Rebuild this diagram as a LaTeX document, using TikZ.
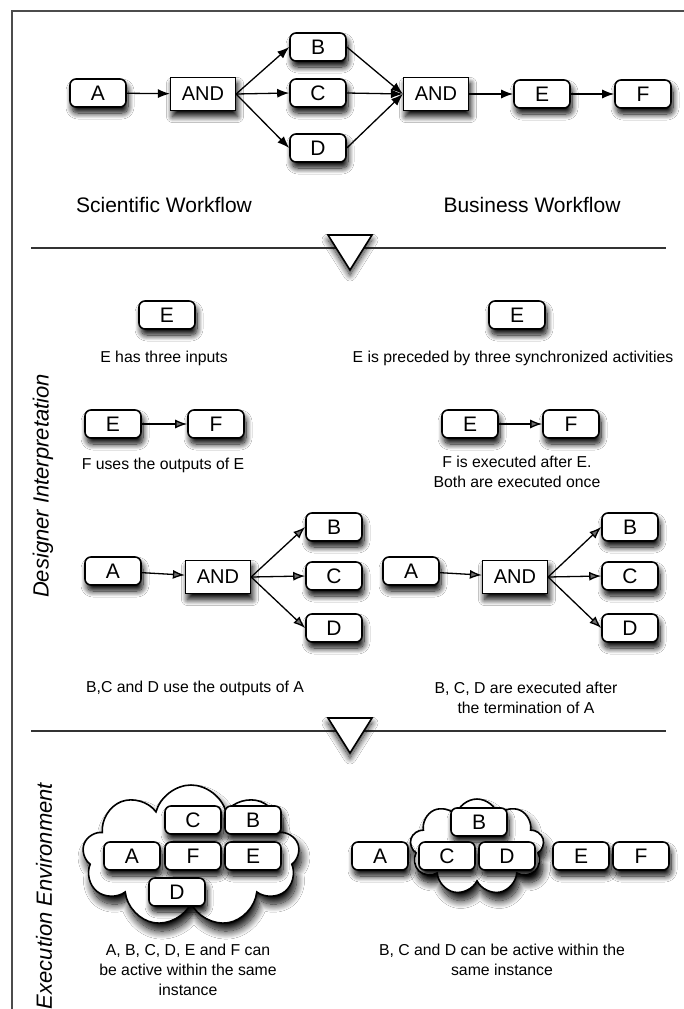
\documentclass[tikz,border=0pt]{standalone}
\usepackage{fontspec}
\setmainfont{Liberation Sans}
\usetikzlibrary{arrows.meta,shapes.symbols,shadows.blur,positioning}
\begin{document}
\begin{tikzpicture}[x=1pt,y=-1pt,
  shad/.style={blur shadow={shadow xshift=2pt, shadow yshift=-6pt, shadow blur radius=6pt, shadow blur steps=12, shadow opacity=100}},
  act/.style={draw, line width=1.6pt, rounded corners=6pt, fill=white, minimum width=56pt, minimum height=28pt, inner sep=0pt, font=\fontsize{21}{21}\selectfont, shad},
  andbox/.style={draw, line width=1.2pt, fill=white, minimum width=65pt, minimum height=33pt, inner sep=0pt, font=\fontsize{20}{20}\selectfont, shad},
  flow/.style={line width=1.3pt, -{Latex[length=12pt,width=9pt]}},
  title/.style={font=\fontsize{21}{21}\selectfont},
  captxt/.style={font=\fontsize{15.8}{20}\selectfont, align=center},
  side/.style={font=\fontsize{22}{22}\selectfont\itshape, rotate=90},
  divider/.style={line width=1.4pt, draw=black!80},
  tri/.style={draw, line width=1.6pt, fill=white, blur shadow={shadow xshift=0pt, shadow yshift=-5pt, shadow blur radius=6pt, shadow blur steps=12, shadow opacity=85}},
  cloudshape/.style={cloud, cloud puffs=9, draw, line width=1.6pt, fill=white, inner sep=0pt, blur shadow={shadow xshift=3pt, shadow yshift=-8pt, shadow blur radius=8pt, shadow blur steps=14, shadow opacity=100}}
]
\useasboundingbox (0,0) rectangle (684,1009);
\fill[white] (0,0) rectangle (684,1009);
% frame
\draw[line width=1.3pt, black!70] (12,1009) -- (12,11) -- (684,11);

% ---------- Top workflow ----------
\node[act] (tA) at (98,93) {A};
\node[andbox] (tAND1) at (203,94) {AND};
\node[act] (tB) at (318,47) {B};
\node[act] (tC) at (318,93) {C};
\node[act] (tD) at (318,148) {D};
\node[andbox] (tAND2) at (436,94) {AND};
\node[act] (tE) at (542,94) {E};
\node[act] (tF) at (643,94) {F};
\draw[flow] (tA) -- (tAND1);
\draw[flow] (tAND1.east) -- (tB.west);
\draw[flow] (tAND1.east) -- (tC.west);
\draw[flow] (tAND1.east) -- (tD.west);
\draw[flow] (tB.east) -- (tAND2.west);
\draw[flow] (tC.east) -- (tAND2.west);
\draw[flow] (tD.east) -- (tAND2.west);
\draw[flow] (tAND2) -- (tE);
\draw[flow] (tE) -- (tF);

\node[title] (sci) at (164,205) {Scientific Workflow};
\node[title] (bus) at (532,205) {Business Workflow};

% ---------- divider 1 ----------
\coordinate (d1l) at (31,248);
\coordinate (d1r) at (666,248);
\draw[divider] (d1l) -- (d1r);
\draw[tri] (328,235) -- (372,235) -- (350,270) -- cycle;

% ---------- Designer interpretation ----------
\node[side] (di) at (43,486) {Designer Interpretation};

\node[act] (e1) at (167,315) {E};
\node[captxt] (e1t) at (164,358) {E has three inputs};
\node[act] (e2) at (517,315) {E};
\node[captxt] (e2t) at (513,358) {E is preceded by three synchronized activities};

\node[act] (ef1E) at (113,424) {E};
\node[act] (ef1F) at (216,424) {F};
\draw[flow] (ef1E) -- (ef1F);
\node[captxt] (ef1t) at (163,465) {F uses the outputs of E};

\node[act] (ef2E) at (470,424) {E};
\node[act] (ef2F) at (571,424) {F};
\draw[flow] (ef2E) -- (ef2F);
\node[captxt] (ef2t) at (517,472) {F is executed after E.\\Both are executed once};

\node[act] (lA) at (113,571) {A};
\node[andbox] (lAND) at (218,577) {AND};
\node[act] (lB) at (334,527) {B};
\node[act] (lC) at (334,576) {C};
\node[act] (lD) at (334,628) {D};
\draw[flow] (lA) -- (lAND);
\draw[flow] (lAND.east) -- (lB.west);
\draw[flow] (lAND.east) -- (lC.west);
\draw[flow] (lAND.east) -- (lD.west);
\node[captxt] (lt) at (195,688) {B,C and D use the outputs of A};

\node[act] (rA) at (411,571) {A};
\node[andbox] (rAND) at (515,577) {AND};
\node[act] (rB) at (630,527) {B};
\node[act] (rC) at (630,576) {C};
\node[act] (rD) at (630,628) {D};
\draw[flow] (rA) -- (rAND);
\draw[flow] (rAND.east) -- (rB.west);
\draw[flow] (rAND.east) -- (rC.west);
\draw[flow] (rAND.east) -- (rD.west);
\node[captxt] (rt) at (526,698) {B, C, D are executed after\\the termination of A};

% ---------- divider 2 ----------
\coordinate (d2l) at (31,731);
\coordinate (d2r) at (666,731);
\draw[divider] (d2l) -- (d2r);
\draw[tri] (328,718) -- (372,718) -- (350,753) -- cycle;

% ---------- Execution environment ----------
\node[side] (ee) at (44,896) {Execution Environment};

\node[cloudshape, minimum width=217pt, minimum height=142pt] (cl1) at (191,856) {};
\node[act] (c1C) at (193,820) {C};
\node[act] (c1B) at (253,820) {B};
\node[act] (c1A) at (132,856) {A};
\node[act] (c1F) at (193,856) {F};
\node[act] (c1E) at (253,856) {E};
\node[act] (c1D) at (177,892) {D};
\node[captxt] (c1t) at (188,970) {A, B, C, D, E and F can\\be active within the same\\instance};

\node[cloudshape, minimum width=134pt, minimum height=96pt] (cl2) at (477,847) {};
\node[act] (c2B) at (479,822) {B};
\node[act] (c2A) at (380,856) {A};
\node[act] (c2C) at (447,856) {C};
\node[act] (c2D) at (507,856) {D};
\node[act] (c2E) at (581,856) {E};
\node[act] (c2F) at (641,856) {F};
\node[captxt] (c2t) at (502,960) {B, C and D can be active within the\\same instance};
\end{tikzpicture}
\end{document}
